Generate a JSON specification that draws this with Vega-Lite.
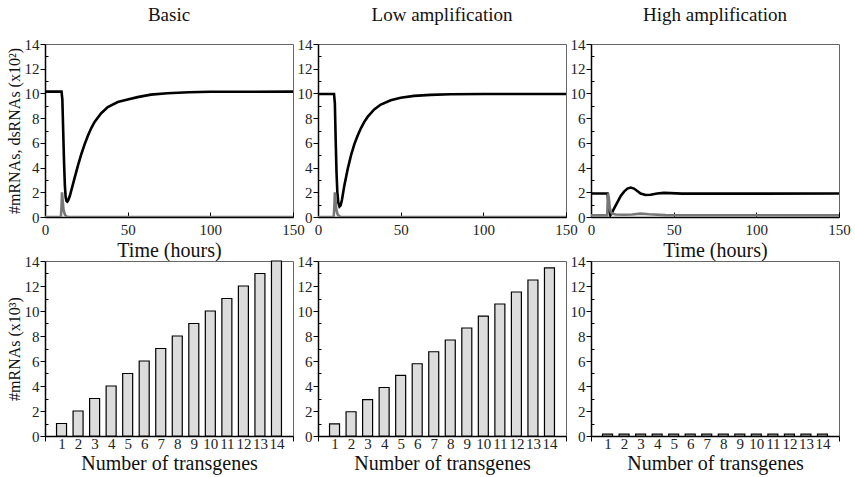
{
  "$schema": "https://vega.github.io/schema/vega-lite/v6.json",
  "padding": {"left": 5, "top": 5, "right": 5, "bottom": 3},
  "background": "white",
  "datasets": {
    "lines": [
      {"p":"A","s":"m","t":0,"v":10.15},{"p":"A","s":"m","t":10,"v":10.15},{"p":"A","s":"m","t":10.5,"v":9.5},{"p":"A","s":"m","t":11,"v":7},{"p":"A","s":"m","t":11.5,"v":4.5},{"p":"A","s":"m","t":12,"v":2.6},{"p":"A","s":"m","t":12.5,"v":1.6},{"p":"A","s":"m","t":13,"v":1.3},{"p":"A","s":"m","t":13.5,"v":1.25},{"p":"A","s":"m","t":14,"v":1.35},{"p":"A","s":"m","t":15,"v":1.7},{"p":"A","s":"m","t":16,"v":2.2},{"p":"A","s":"m","t":18,"v":3.2},{"p":"A","s":"m","t":20,"v":4.2},{"p":"A","s":"m","t":22,"v":5.1},{"p":"A","s":"m","t":24,"v":5.9},{"p":"A","s":"m","t":26,"v":6.6},{"p":"A","s":"m","t":28,"v":7.2},{"p":"A","s":"m","t":30,"v":7.7},{"p":"A","s":"m","t":34,"v":8.4},{"p":"A","s":"m","t":38,"v":8.9},{"p":"A","s":"m","t":44,"v":9.3},{"p":"A","s":"m","t":50,"v":9.5},{"p":"A","s":"m","t":56,"v":9.7},{"p":"A","s":"m","t":64,"v":9.9},{"p":"A","s":"m","t":74,"v":10.02},{"p":"A","s":"m","t":87,"v":10.1},{"p":"A","s":"m","t":100,"v":10.13},{"p":"A","s":"m","t":150,"v":10.15},
      {"p":"A","s":"d","t":0,"v":0},{"p":"A","s":"d","t":9.6,"v":0},{"p":"A","s":"d","t":10,"v":0.8},{"p":"A","s":"d","t":10.3,"v":2.0},{"p":"A","s":"d","t":10.7,"v":1.3},{"p":"A","s":"d","t":11.2,"v":0.6},{"p":"A","s":"d","t":12,"v":0.2},{"p":"A","s":"d","t":13,"v":0.05},{"p":"A","s":"d","t":14,"v":0},{"p":"A","s":"d","t":150,"v":0},
      {"p":"B","s":"m","t":0,"v":9.95},{"p":"B","s":"m","t":9.7,"v":9.95},{"p":"B","s":"m","t":10.2,"v":9.2},{"p":"B","s":"m","t":10.7,"v":6.2},{"p":"B","s":"m","t":11.2,"v":3.6},{"p":"B","s":"m","t":11.7,"v":2.0},{"p":"B","s":"m","t":12.3,"v":1.15},{"p":"B","s":"m","t":13,"v":0.85},{"p":"B","s":"m","t":13.7,"v":0.95},{"p":"B","s":"m","t":14.5,"v":1.4},{"p":"B","s":"m","t":16,"v":2.6},{"p":"B","s":"m","t":18,"v":3.9},{"p":"B","s":"m","t":20,"v":5.0},{"p":"B","s":"m","t":22,"v":5.9},{"p":"B","s":"m","t":24,"v":6.6},{"p":"B","s":"m","t":26,"v":7.2},{"p":"B","s":"m","t":28,"v":7.7},{"p":"B","s":"m","t":30,"v":8.1},{"p":"B","s":"m","t":34,"v":8.7},{"p":"B","s":"m","t":38,"v":9.1},{"p":"B","s":"m","t":44,"v":9.45},{"p":"B","s":"m","t":50,"v":9.65},{"p":"B","s":"m","t":58,"v":9.8},{"p":"B","s":"m","t":68,"v":9.88},{"p":"B","s":"m","t":80,"v":9.93},{"p":"B","s":"m","t":100,"v":9.95},{"p":"B","s":"m","t":150,"v":9.95},
      {"p":"B","s":"d","t":0,"v":0},{"p":"B","s":"d","t":9.5,"v":0},{"p":"B","s":"d","t":9.9,"v":0.8},{"p":"B","s":"d","t":10.2,"v":2.0},{"p":"B","s":"d","t":10.6,"v":1.3},{"p":"B","s":"d","t":11.1,"v":0.6},{"p":"B","s":"d","t":11.9,"v":0.2},{"p":"B","s":"d","t":13,"v":0.05},{"p":"B","s":"d","t":14,"v":0},{"p":"B","s":"d","t":150,"v":0},
      {"p":"C","s":"m","t":0,"v":1.9},{"p":"C","s":"m","t":10,"v":1.9},{"p":"C","s":"m","t":10.5,"v":1.2},{"p":"C","s":"m","t":11,"v":0.5},{"p":"C","s":"m","t":11.7,"v":0.15},{"p":"C","s":"m","t":12.5,"v":0.3},{"p":"C","s":"m","t":14,"v":0.7},{"p":"C","s":"m","t":16,"v":1.2},{"p":"C","s":"m","t":18,"v":1.7},{"p":"C","s":"m","t":20,"v":2.05},{"p":"C","s":"m","t":22,"v":2.3},{"p":"C","s":"m","t":24,"v":2.38},{"p":"C","s":"m","t":26,"v":2.3},{"p":"C","s":"m","t":28,"v":2.1},{"p":"C","s":"m","t":30,"v":1.9},{"p":"C","s":"m","t":33,"v":1.78},{"p":"C","s":"m","t":36,"v":1.8},{"p":"C","s":"m","t":40,"v":1.9},{"p":"C","s":"m","t":44,"v":1.95},{"p":"C","s":"m","t":48,"v":1.93},{"p":"C","s":"m","t":55,"v":1.89},{"p":"C","s":"m","t":150,"v":1.9},
      {"p":"C","s":"d","t":0,"v":0.13},{"p":"C","s":"d","t":9.8,"v":0.13},{"p":"C","s":"d","t":10.3,"v":1.9},{"p":"C","s":"d","t":10.8,"v":1.5},{"p":"C","s":"d","t":11.3,"v":0.8},{"p":"C","s":"d","t":12,"v":0.4},{"p":"C","s":"d","t":13,"v":0.25},{"p":"C","s":"d","t":15,"v":0.2},{"p":"C","s":"d","t":20,"v":0.18},{"p":"C","s":"d","t":25,"v":0.2},{"p":"C","s":"d","t":30,"v":0.27},{"p":"C","s":"d","t":35,"v":0.22},{"p":"C","s":"d","t":45,"v":0.15},{"p":"C","s":"d","t":150,"v":0.13}
    ],
    "bars": [
      {"p":"D","n":1,"v":1},{"p":"D","n":2,"v":2},{"p":"D","n":3,"v":3},{"p":"D","n":4,"v":4},{"p":"D","n":5,"v":5},{"p":"D","n":6,"v":6},{"p":"D","n":7,"v":7},{"p":"D","n":8,"v":8},{"p":"D","n":9,"v":9},{"p":"D","n":10,"v":10},{"p":"D","n":11,"v":11},{"p":"D","n":12,"v":12},{"p":"D","n":13,"v":13},{"p":"D","n":14,"v":14},
      {"p":"E","n":1,"v":0.97},{"p":"E","n":2,"v":1.94},{"p":"E","n":3,"v":2.91},{"p":"E","n":4,"v":3.88},{"p":"E","n":5,"v":4.85},{"p":"E","n":6,"v":5.78},{"p":"E","n":7,"v":6.74},{"p":"E","n":8,"v":7.68},{"p":"E","n":9,"v":8.64},{"p":"E","n":10,"v":9.59},{"p":"E","n":11,"v":10.56},{"p":"E","n":12,"v":11.52},{"p":"E","n":13,"v":12.48},{"p":"E","n":14,"v":13.45},
      {"p":"F","n":1,"v":0.15},{"p":"F","n":2,"v":0.15},{"p":"F","n":3,"v":0.15},{"p":"F","n":4,"v":0.15},{"p":"F","n":5,"v":0.15},{"p":"F","n":6,"v":0.15},{"p":"F","n":7,"v":0.15},{"p":"F","n":8,"v":0.15},{"p":"F","n":9,"v":0.15},{"p":"F","n":10,"v":0.15},{"p":"F","n":11,"v":0.15},{"p":"F","n":12,"v":0.15},{"p":"F","n":13,"v":0.15},{"p":"F","n":14,"v":0.15}
    ]
  },
  "bounds": "flush",
  "columns": 3,
  "spacing": {"row": 44, "column": 25},
  "concat": [
    {
      "width": 248, "height": 173,
      "title": {"text": "Basic", "offset": 12},
      "encoding": {
        "x": {"field": "t", "type": "quantitative", "scale": {"domain": [0, 150], "nice": false}, "axis": {"values": [0, 50, 100, 150], "labelOverlap": false, "labelFlush": false, "title": "Time (hours)", "tickSize": -5, "labelPadding": 10, "titlePadding": 3}},
        "y": {"field": "v", "type": "quantitative", "scale": {"domain": [0, 14], "nice": false}, "axis": {"values": [0,1,2,3,4,5,6,7,8,9,10,11,12,13,14], "labelOverlap": false, "labelExpr": "datum.value % 2 == 1 ? '' : datum.label", "tickSize": {"condition": {"test": "datum.value % 2 == 1", "value": -3}, "value": 5}, "title": "#mRNAs, dsRNAs (x10²)", "titleFontSize": 16, "titlePadding": 2}}
      },
      "layer": [
        {"data": {"name": "lines"}, "transform": [{"filter": "datum.p == 'A' && datum.s == 'm'"}], "mark": {"type": "line", "color": "#000", "strokeWidth": 2.6, "clip": true}},
        {"data": {"name": "lines"}, "transform": [{"filter": "datum.p == 'A' && datum.s == 'd'"}], "mark": {"type": "line", "color": "#777", "strokeWidth": 2.6, "clip": true}},
        {"data": {"values": [{"label": "A"}]},
         "mark": {"type": "text", "align": "left", "baseline": "top", "fontSize": 27, "dx": 3, "dy": 2},
         "encoding": {
           "x": {"datum": 0, "type": "quantitative", "axis": {"values": [0, 50, 100, 150], "labelOverlap": false, "labelFlush": false, "title": "Time (hours)", "tickSize": -5, "labelPadding": 10, "titlePadding": 3}},
           "y": {"datum": 14, "type": "quantitative", "axis": {"values": [0,1,2,3,4,5,6,7,8,9,10,11,12,13,14], "labelOverlap": false, "labelExpr": "datum.value % 2 == 1 ? '' : datum.label", "tickSize": {"condition": {"test": "datum.value % 2 == 1", "value": -3}, "value": 5}, "title": "#mRNAs, dsRNAs (x10²)", "titleFontSize": 16, "titlePadding": 2}},
           "text": {"field": "label"}}}
      ]
    },
    {
      "width": 248, "height": 173,
      "title": {"text": "Low amplification", "offset": 12},
      "encoding": {
        "x": {"field": "t", "type": "quantitative", "scale": {"domain": [0, 150], "nice": false}, "axis": {"values": [0, 50, 100, 150], "labelOverlap": false, "labelFlush": false, "title": null, "tickSize": -5, "labelPadding": 10}},
        "y": {"field": "v", "type": "quantitative", "scale": {"domain": [0, 14], "nice": false}, "axis": {"values": [0,1,2,3,4,5,6,7,8,9,10,11,12,13,14], "labelOverlap": false, "labelExpr": "datum.value % 2 == 1 ? '' : datum.label", "tickSize": {"condition": {"test": "datum.value % 2 == 1", "value": -3}, "value": 5}, "title": null}}
      },
      "layer": [
        {"data": {"name": "lines"}, "transform": [{"filter": "datum.p == 'B' && datum.s == 'm'"}], "mark": {"type": "line", "color": "#000", "strokeWidth": 2.6, "clip": true}},
        {"data": {"name": "lines"}, "transform": [{"filter": "datum.p == 'B' && datum.s == 'd'"}], "mark": {"type": "line", "color": "#777", "strokeWidth": 2.6, "clip": true}},
        {"data": {"values": [{"label": "B"}]},
         "mark": {"type": "text", "align": "left", "baseline": "top", "fontSize": 27, "dx": 3, "dy": 2},
         "encoding": {
           "x": {"datum": 0, "type": "quantitative", "axis": {"values": [0, 50, 100, 150], "labelOverlap": false, "labelFlush": false, "title": null, "tickSize": -5, "labelPadding": 10}},
           "y": {"datum": 14, "type": "quantitative", "axis": {"values": [0,1,2,3,4,5,6,7,8,9,10,11,12,13,14], "labelOverlap": false, "labelExpr": "datum.value % 2 == 1 ? '' : datum.label", "tickSize": {"condition": {"test": "datum.value % 2 == 1", "value": -3}, "value": 5}, "title": null}},
           "text": {"field": "label"}}}
      ]
    },
    {
      "width": 248, "height": 173,
      "title": {"text": "High amplification", "offset": 12},
      "encoding": {
        "x": {"field": "t", "type": "quantitative", "scale": {"domain": [0, 150], "nice": false}, "axis": {"values": [0, 50, 100, 150], "labelOverlap": false, "labelFlush": false, "title": "Time (hours)", "tickSize": -5, "labelPadding": 10, "titlePadding": 3}},
        "y": {"field": "v", "type": "quantitative", "scale": {"domain": [0, 14], "nice": false}, "axis": {"values": [0,1,2,3,4,5,6,7,8,9,10,11,12,13,14], "labelOverlap": false, "labelExpr": "datum.value % 2 == 1 ? '' : (datum.value == 8 ? '6' : datum.label)", "tickSize": {"condition": {"test": "datum.value % 2 == 1", "value": -3}, "value": 5}, "title": null}}
      },
      "layer": [
        {"data": {"name": "lines"}, "transform": [{"filter": "datum.p == 'C' && datum.s == 'm'"}], "mark": {"type": "line", "color": "#000", "strokeWidth": 2.6, "clip": true}},
        {"data": {"name": "lines"}, "transform": [{"filter": "datum.p == 'C' && datum.s == 'd'"}], "mark": {"type": "line", "color": "#777", "strokeWidth": 2.6, "clip": true}},
        {"data": {"values": [{"label": "C"}]},
         "mark": {"type": "text", "align": "left", "baseline": "top", "fontSize": 27, "dx": 3, "dy": 2},
         "encoding": {
           "x": {"datum": 0, "type": "quantitative", "axis": {"values": [0, 50, 100, 150], "labelOverlap": false, "labelFlush": false, "title": "Time (hours)", "tickSize": -5, "labelPadding": 10, "titlePadding": 3}},
           "y": {"datum": 14, "type": "quantitative", "axis": {"values": [0,1,2,3,4,5,6,7,8,9,10,11,12,13,14], "labelOverlap": false, "labelExpr": "datum.value % 2 == 1 ? '' : (datum.value == 8 ? '6' : datum.label)", "tickSize": {"condition": {"test": "datum.value % 2 == 1", "value": -3}, "value": 5}, "title": null}},
           "text": {"field": "label"}}}
      ]
    },
    {
      "width": 248, "height": 175,
      "encoding": {
        "x": {"field": "n", "type": "quantitative", "scale": {"domain": [0, 15], "nice": false, "padding": 0}, "axis": {"values": [0,1,2,3,4,5,6,7,8,9,10,11,12,13,14,15], "labelOverlap": false, "labelFlush": false, "labelExpr": "datum.value == 0 || datum.value == 15 ? '' : datum.label", "tickOpacity": {"condition": {"test": "datum.value == 0 || datum.value == 15", "value": 1}, "value": 0}, "labelPadding": -5, "title": "Number of transgenes", "titlePadding": 2}},
        "y": {"field": "v", "type": "quantitative", "scale": {"domain": [0, 14], "nice": false}, "axis": {"values": [0,1,2,3,4,5,6,7,8,9,10,11,12,13,14], "labelOverlap": false, "labelExpr": "datum.value % 2 == 1 ? '' : datum.label", "tickSize": {"condition": {"test": "datum.value % 2 == 1", "value": -3}, "value": 5}, "title": "#mRNAs (x10³)", "titleFontSize": 16, "titlePadding": 2}}
      },
      "layer": [
        {"data": {"name": "bars"}, "transform": [{"filter": "datum.p == 'D'"}], "mark": {"type": "bar", "fill": "#dcdcdc", "stroke": "#000", "strokeWidth": 1.2, "size": 10}},
        {"data": {"values": [{"label": "D"}]},
         "mark": {"type": "text", "align": "left", "baseline": "top", "fontSize": 27, "dx": 3, "dy": 2},
         "encoding": {
           "x": {"datum": 0, "type": "quantitative", "axis": {"values": [0,1,2,3,4,5,6,7,8,9,10,11,12,13,14,15], "labelOverlap": false, "labelFlush": false, "labelExpr": "datum.value == 0 || datum.value == 15 ? '' : datum.label", "tickOpacity": {"condition": {"test": "datum.value == 0 || datum.value == 15", "value": 1}, "value": 0}, "labelPadding": -5, "title": "Number of transgenes", "titlePadding": 2}},
           "y": {"datum": 14, "type": "quantitative", "axis": {"values": [0,1,2,3,4,5,6,7,8,9,10,11,12,13,14], "labelOverlap": false, "labelExpr": "datum.value % 2 == 1 ? '' : datum.label", "tickSize": {"condition": {"test": "datum.value % 2 == 1", "value": -3}, "value": 5}, "title": "#mRNAs (x10³)", "titleFontSize": 16, "titlePadding": 2}},
           "text": {"field": "label"}}}
      ]
    },
    {
      "width": 248, "height": 175,
      "encoding": {
        "x": {"field": "n", "type": "quantitative", "scale": {"domain": [0, 15], "nice": false, "padding": 0}, "axis": {"values": [0,1,2,3,4,5,6,7,8,9,10,11,12,13,14,15], "labelOverlap": false, "labelFlush": false, "labelExpr": "datum.value == 0 || datum.value == 15 ? '' : datum.label", "tickOpacity": {"condition": {"test": "datum.value == 0 || datum.value == 15", "value": 1}, "value": 0}, "labelPadding": -5, "title": "Number of transgenes", "titlePadding": 2}},
        "y": {"field": "v", "type": "quantitative", "scale": {"domain": [0, 14], "nice": false}, "axis": {"values": [0,1,2,3,4,5,6,7,8,9,10,11,12,13,14], "labelOverlap": false, "labelExpr": "datum.value % 2 == 1 ? '' : datum.label", "tickSize": {"condition": {"test": "datum.value % 2 == 1", "value": -3}, "value": 5}, "title": null}}
      },
      "layer": [
        {"data": {"name": "bars"}, "transform": [{"filter": "datum.p == 'E'"}], "mark": {"type": "bar", "fill": "#dcdcdc", "stroke": "#000", "strokeWidth": 1.2, "size": 10}},
        {"data": {"values": [{"label": "E"}]},
         "mark": {"type": "text", "align": "left", "baseline": "top", "fontSize": 27, "dx": 3, "dy": 2},
         "encoding": {
           "x": {"datum": 0, "type": "quantitative", "axis": {"values": [0,1,2,3,4,5,6,7,8,9,10,11,12,13,14,15], "labelOverlap": false, "labelFlush": false, "labelExpr": "datum.value == 0 || datum.value == 15 ? '' : datum.label", "tickOpacity": {"condition": {"test": "datum.value == 0 || datum.value == 15", "value": 1}, "value": 0}, "labelPadding": -5, "title": "Number of transgenes", "titlePadding": 2}},
           "y": {"datum": 14, "type": "quantitative", "axis": {"values": [0,1,2,3,4,5,6,7,8,9,10,11,12,13,14], "labelOverlap": false, "labelExpr": "datum.value % 2 == 1 ? '' : datum.label", "tickSize": {"condition": {"test": "datum.value % 2 == 1", "value": -3}, "value": 5}, "title": null}},
           "text": {"field": "label"}}}
      ]
    },
    {
      "width": 248, "height": 175,
      "encoding": {
        "x": {"field": "n", "type": "quantitative", "scale": {"domain": [0, 15], "nice": false, "padding": 0}, "axis": {"values": [0,1,2,3,4,5,6,7,8,9,10,11,12,13,14,15], "labelOverlap": false, "labelFlush": false, "labelExpr": "datum.value == 0 || datum.value == 15 ? '' : datum.label", "tickOpacity": {"condition": {"test": "datum.value == 0 || datum.value == 15", "value": 1}, "value": 0}, "labelPadding": -5, "title": "Number of transgenes", "titlePadding": 2}},
        "y": {"field": "v", "type": "quantitative", "scale": {"domain": [0, 14], "nice": false}, "axis": {"values": [0,1,2,3,4,5,6,7,8,9,10,11,12,13,14], "labelOverlap": false, "labelExpr": "datum.value % 2 == 1 ? '' : datum.label", "tickSize": {"condition": {"test": "datum.value % 2 == 1", "value": -3}, "value": 5}, "title": null}}
      },
      "layer": [
        {"data": {"name": "bars"}, "transform": [{"filter": "datum.p == 'F'"}], "mark": {"type": "bar", "fill": "#dcdcdc", "stroke": "#000", "strokeWidth": 1.2, "size": 10}},
        {"data": {"values": [{"label": "F"}]},
         "mark": {"type": "text", "align": "left", "baseline": "top", "fontSize": 27, "dx": 3, "dy": 2},
         "encoding": {
           "x": {"datum": 0, "type": "quantitative", "axis": {"values": [0,1,2,3,4,5,6,7,8,9,10,11,12,13,14,15], "labelOverlap": false, "labelFlush": false, "labelExpr": "datum.value == 0 || datum.value == 15 ? '' : datum.label", "tickOpacity": {"condition": {"test": "datum.value == 0 || datum.value == 15", "value": 1}, "value": 0}, "labelPadding": -5, "title": "Number of transgenes", "titlePadding": 2}},
           "y": {"datum": 14, "type": "quantitative", "axis": {"values": [0,1,2,3,4,5,6,7,8,9,10,11,12,13,14], "labelOverlap": false, "labelExpr": "datum.value % 2 == 1 ? '' : datum.label", "tickSize": {"condition": {"test": "datum.value % 2 == 1", "value": -3}, "value": 5}, "title": null}},
           "text": {"field": "label"}}}
      ]
    }
  ],
  "config": {
    "font": "Liberation Serif",
    "view": {"stroke": "#666", "strokeWidth": 1},
    "axis": {
      "grid": false,
      "domainColor": "#000",
      "domainWidth": 1.5,
      "tickColor": "#000",
      "tickSize": 5,
      "labelColor": "#222",
      "titleColor": "#111",
      "labelFont": "Liberation Serif",
      "titleFont": "Liberation Serif",
      "labelFontSize": 15,
      "titleFontSize": 20,
      "titleFontWeight": "normal",
      "labelPadding": 1,
      "labelOverlap": false
    },
    "title": {"font": "Liberation Serif", "fontSize": 19, "fontWeight": "normal", "color": "#111"},
    "text": {"font": "Liberation Serif", "color": "#000"}
  }
}
